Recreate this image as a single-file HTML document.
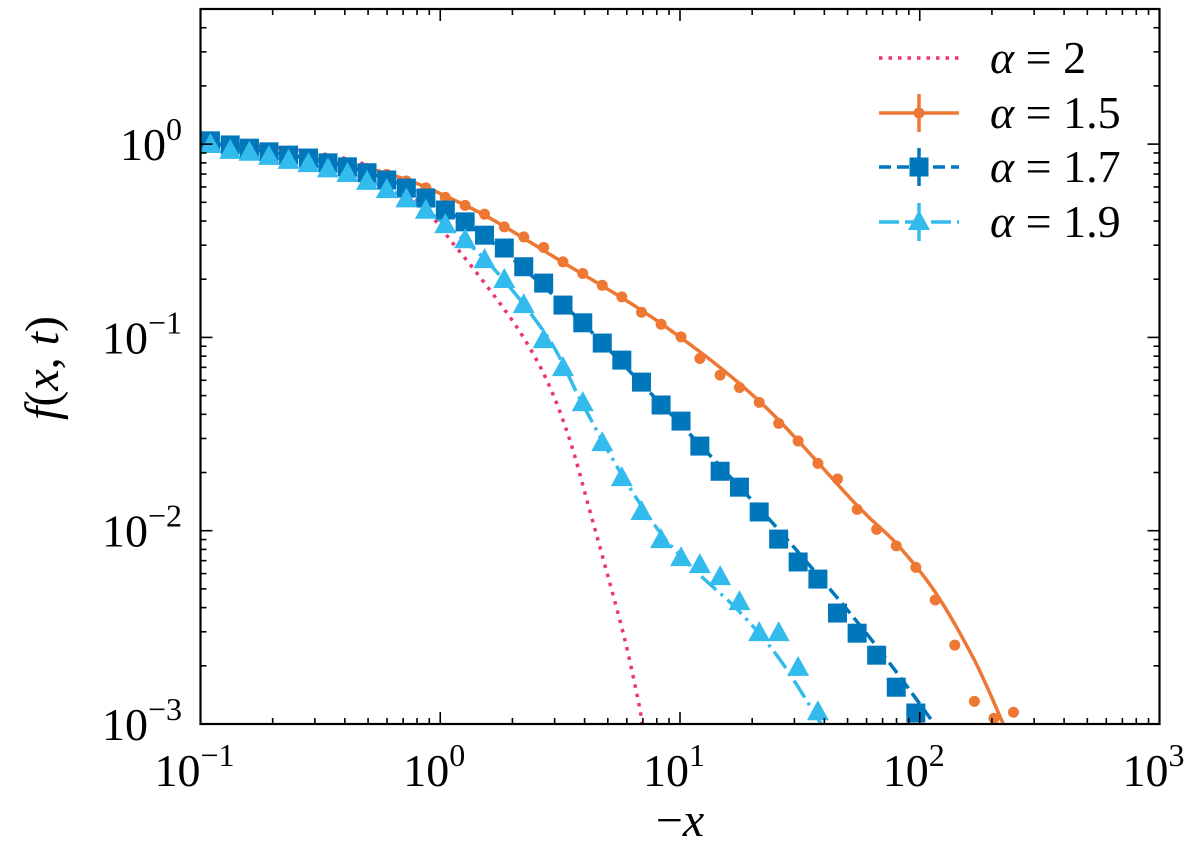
<!DOCTYPE html>
<html><head><meta charset="utf-8">
<style>
html,body{margin:0;padding:0;background:#fff;}
svg{display:block;}
text{font-family:"Liberation Serif","DejaVu Serif",serif;fill:#000;}
</style></head>
<body>
<svg id="chart" width="1200" height="845" viewBox="0 0 1200 845" xmlns="http://www.w3.org/2000/svg">
<defs><clipPath id="clip"><rect x="200" y="9" width="960" height="715"/></clipPath></defs>
<g id="plot" clip-path="url(#clip)"></g>
<g id="axes"></g>
<g id="legend"></g>
</svg>
<script>
// ---- data ----
const markerX = [0.110,0.133,0.160,0.193,0.233,0.282,0.340,0.410,0.495,0.598,0.722,0.871,1.05,1.27,1.53,1.85,2.23,2.70,3.25,3.93,4.74,5.72,6.91,8.34,10.1,12.1,14.7,17.7,21.4,25.8,31.1,37.6,45.4,54.8,66.1,79.8,96.3,116,140,169,204,246];
const sim15 = [1.024,0.99,0.959,0.931,0.898,0.867,0.836,0.797,0.749,0.697,0.644,0.594,0.530,0.482,0.434,0.373,0.331,0.292,0.246,0.214,0.186,0.162,0.135,0.117,0.1007,0.0778,0.0638,0.0551,0.0461,0.0359,0.0291,0.0223,0.0185,0.0129,0.01016,0.00835,0.00646,0.00438,0.00256,0.00131,0.00107,0.00115];
const sim17 = [1.04,0.99,0.953,0.912,0.877,0.847,0.80,0.763,0.711,0.652,0.592,0.526,0.456,0.396,0.338,0.290,0.232,0.191,0.147,0.119,0.0935,0.0763,0.0587,0.0447,0.0369,0.0274,0.0203,0.0168,0.0125,0.00905,0.00689,0.00562,0.00375,0.00295,0.00227,0.00155,0.00114];
const sim19 = [0.99,0.923,0.902,0.859,0.819,0.788,0.740,0.70,0.638,0.578,0.518,0.452,0.381,0.318,0.251,0.198,0.147,0.0968,0.0694,0.0457,0.0284,0.0187,0.0125,0.00894,0.00721,0.00664,0.00575,0.00427,0.00295,0.00295,0.00195,0.00115];
const theoryX15 = [0.1,0.493,1.265,3.24,8.41,21.6,54.8,79.8,116,169,223];
const theoryY15 = [1.024,0.751,0.484,0.245,0.117,0.0463,0.0135,0.0086,0.00481,0.00214,0.001];
const theoryX17 = [0.1,0.493,1.265,3.24,8.41,21.6,37.7,54.8,79.8,115];
const theoryY17 = [1.036,0.717,0.395,0.149,0.0447,0.0129,0.00587,0.00338,0.00186,0.001];
const theoryX19 = [0.1,0.493,1.265,2.68,3.94,5.73,8.41,12.1,17.8,26.2,38.8];
const theoryY19 = [1.012,0.651,0.318,0.109,0.0447,0.0194,0.00951,0.00591,0.00379,0.00214,0.001];
const theoryX2 = [0.1,0.235,0.493,0.798,1.127,1.61,2.19,2.81,3.47,4.17,4.96,5.89,6.74,7.0];
const theoryY2 = [1.012,0.942,0.779,0.513,0.308,0.176,0.103,0.0585,0.0295,0.0132,0.00605,0.00272,0.00127,0.00093];
const xTickExp = [-1,0,1,2,3];
const yTickExp = [0,-1,-2,-3];
const legendLabels = ["2","1.5","1.7","1.9"];

// ---- axes ----
const X0=200.5, X1=1159.5, Y0=9, Y1=724;
const xmin=-1,xmax=3,ymin=-3,ymax=Math.log10(5);
const sx=v=>X0+(Math.log10(v)-xmin)/(xmax-xmin)*(X1-X0);
const sy=v=>Y1-(Math.log10(v)-ymin)/(ymax-ymin)*(Y1-Y0);
const NS="http://www.w3.org/2000/svg";
function mk(tag,parent,attrs){const e=document.createElementNS(NS,tag);for(const k in attrs)e.setAttribute(k,attrs[k]);parent.appendChild(e);return e;}
const plot=document.getElementById('plot'),axes=document.getElementById('axes'),legend=document.getElementById('legend');
const C={pink:'#ee3377',orange:'#ee7733',dark:'#0077bb',light:'#33bbee'};

function pathD(xs,ys){
  const p=xs.map((x,i)=>[sx(x),sy(ys[i])]);
  let d='M'+p[0][0].toFixed(1)+','+p[0][1].toFixed(1);
  for(let i=0;i<p.length-1;i++){
    const p0=p[Math.max(0,i-1)],p1=p[i],p2=p[i+1],p3=p[Math.min(p.length-1,i+2)];
    const c1=[p1[0]+(p2[0]-p0[0])/6,p1[1]+(p2[1]-p0[1])/6];
    const c2=[p2[0]-(p3[0]-p1[0])/6,p2[1]-(p3[1]-p1[1])/6];
    d+=' C'+c1[0].toFixed(1)+','+c1[1].toFixed(1)+' '+c2[0].toFixed(1)+','+c2[1].toFixed(1)+' '+p2[0].toFixed(1)+','+p2[1].toFixed(1);
  }
  return d;
}

let l=mk('path',plot,{d:pathD(theoryX2,theoryY2),fill:'none',stroke:C.pink,'stroke-width':3.5,'stroke-dasharray':'3.5 6'});


l=mk('path',plot,{d:pathD(theoryX15,theoryY15),fill:'none',stroke:C.orange,'stroke-width':3.5,'stroke-linejoin':'round'});


l=mk('path',plot,{d:pathD(theoryX17,theoryY17),fill:'none',stroke:C.dark,'stroke-width':3.5,'stroke-dasharray':'13 6'});


l=mk('path',plot,{d:pathD(theoryX19,theoryY19),fill:'none',stroke:C.light,'stroke-width':3.5,'stroke-dasharray':'20 6 3 6'});



sim15.forEach((v,i)=>{const c=mk('circle',plot,{cx:sx(markerX[i]),cy:sy(v),r:5.5,fill:C.orange});

});
sim17.forEach((v,i)=>{const s=mk('rect',plot,{x:sx(markerX[i])-9.5,y:sy(v)-9.5,width:19,height:19,fill:C.dark});

});
sim19.forEach((v,i)=>{const cx=sx(markerX[i]),cy=sy(v);const t=mk('polygon',plot,{points:`${cx},${cy-12} ${cx-11},${cy+8} ${cx+11},${cy+8}`,fill:C.light});

});

const fr=mk('rect',axes,{x:X0,y:Y0,width:X1-X0,height:Y1-Y0,fill:'none',stroke:'#000','stroke-width':2.2});



function tickX(v,len){const x=sx(v);mk('line',axes,{x1:x,x2:x,y1:Y1,y2:Y1-len,stroke:'#000','stroke-width':1.6});mk('line',axes,{x1:x,x2:x,y1:Y0,y2:Y0+len,stroke:'#000','stroke-width':1.6});}
function tickY(v,len){const y=sy(v);mk('line',axes,{x1:X0,x2:X0+len,y1:y,y2:y,stroke:'#000','stroke-width':1.6});mk('line',axes,{x1:X1,x2:X1-len,y1:y,y2:y,stroke:'#000','stroke-width':1.6});}
for(let e=-1;e<3;e++)for(let m=2;m<10;m++)tickX(m*Math.pow(10,e),6);
for(let e=-3;e<1;e++)for(let m=2;m<10;m++){const v=m*Math.pow(10,e);if(Math.log10(v)<=ymax)tickY(v,6);}
xTickExp.forEach(e=>{tickX(Math.pow(10,e),12);
const t=mk('text',axes,{x:sx(Math.pow(10,e))-6,y:786,'font-size':46,'text-anchor':'middle'});
t.innerHTML='10<tspan dy="-20" font-size="32">'+(e<0?'\u2212'+(-e):e)+'</tspan>';

});
yTickExp.forEach(e=>{tickY(Math.pow(10,e),12);
const t=mk('text',axes,{x:182,y:sy(Math.pow(10,e))+16,'font-size':46,'text-anchor':'end'});
t.innerHTML='10<tspan dy="-20" font-size="32">'+(e<0?'\u2212'+(-e):e)+'</tspan>';

});

let xt=mk('text',axes,{x:680,y:836,'font-size':48,'text-anchor':'middle'});
xt.innerHTML='\u2212<tspan font-style="italic">x</tspan>';


let yt=mk('text',axes,{x:0,y:0,'font-size':48,'text-anchor':'middle',transform:'translate(58,368) rotate(-90)'});
yt.innerHTML='<tspan font-style="italic">f</tspan>(<tspan font-style="italic">x</tspan>, <tspan font-style="italic">t</tspan>)';



const rows=[58,113,167,222];
const styles=[{c:C.pink,dash:'3.5 6',m:null},{c:C.orange,dash:null,m:'circle'},{c:C.dark,dash:'12 6',m:'square'},{c:C.light,dash:'20 6',m:'tri'}];
rows.forEach((y,i)=>{const g=mk('g',legend,{});


const s=styles[i];const a={x1:879,x2:959,y1:y,y2:y,stroke:s.c,'stroke-width':3.5};if(s.dash)a['stroke-dasharray']=s.dash;mk('line',g,a);
if(s.m){mk('line',g,{x1:919,x2:919,y1:y-19,y2:y+19,stroke:s.c,'stroke-width':3.5});
if(s.m==='circle')mk('circle',g,{cx:919,cy:y,r:5.5,fill:s.c});
if(s.m==='square')mk('rect',g,{x:909.5,y:y-9.5,width:19,height:19,fill:s.c});
if(s.m==='tri')mk('polygon',g,{points:`919,${y-12} 908,${y+8} 930,${y+8}`,fill:s.c});}
const t=mk('text',g,{x:990,y:y+15,'font-size':46});
t.innerHTML='<tspan font-style="italic">\u03b1</tspan> = '+legendLabels[i];});
</script>
</body></html>
